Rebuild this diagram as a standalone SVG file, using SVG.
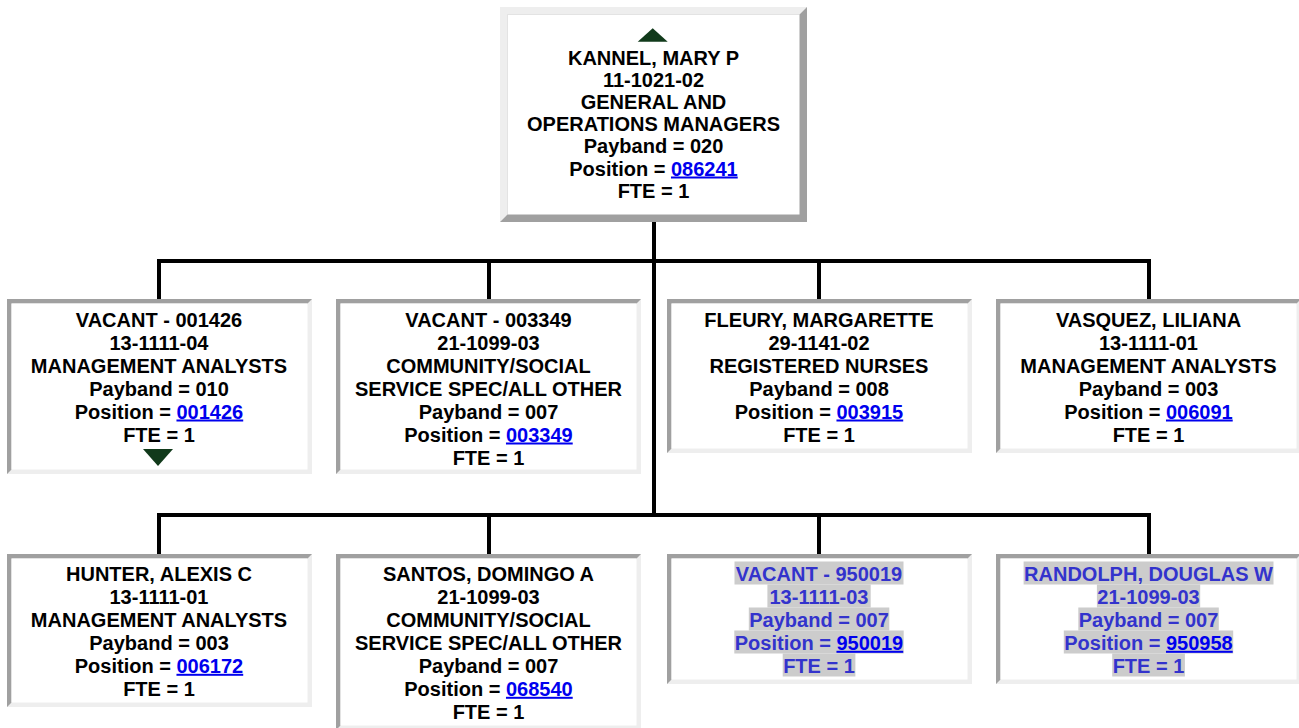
<svg xmlns="http://www.w3.org/2000/svg" width="1299" height="728" viewBox="0 0 1299 728">
<style>
text{font-family:"Liberation Sans",Arial,Helvetica,sans-serif;font-weight:bold;font-size:20px;text-anchor:middle;fill:#000}
.lt{fill:#eeeeee}
.dk{fill:#a0a0a0}
.in{fill:#ffffff}
.lnk{fill:#0000ee;text-decoration:underline}
.hl{fill:#cccccc}
text.hi{fill:#3333cc}
.tri{fill:#113a1b}
.conn{fill:none;stroke:#000;stroke-width:4;stroke-linejoin:miter}
</style>
<rect width="1299" height="728" fill="#ffffff"/>
<g id="connectors">
<path class="conn" d="M654 222 V515"/>
<path class="conn" d="M159 299 V261 H1149 V299 M489 261 V299 M819 261 V299"/>
<path class="conn" d="M159 554 V515 H1149 V554 M489 515 V554 M819 515 V554"/>
</g>
<g id="node-kannel" transform="translate(500,7)">
<rect class="dk" x="0" y="0" width="307" height="215"/>
<polygon class="lt" points="0,0 307,0 299.5,7.5 7.5,7.5 7.5,207.5 0,215"/>
<rect class="in" x="7.5" y="7.5" width="292" height="200"/>
<polygon class="tri" points="137.7,34.7 167.7,34.7 152.7,21.3"/>
<text x="153.5" y="57.5">KANNEL, MARY P<tspan x="153.5" dy="22.2">11-1021-02</tspan><tspan x="153.5" dy="22.2">GENERAL AND</tspan><tspan x="153.5" dy="22.2">OPERATIONS MANAGERS</tspan><tspan x="153.5" dy="22.2">Payband = 020</tspan><tspan x="153.5" dy="22.2">Position = <tspan class="lnk">086241</tspan></tspan><tspan x="153.5" dy="22.2">FTE = 1</tspan></text>
</g>
<g id="node-vacant-001426" transform="translate(7,299)">
<rect class="lt" x="0" y="0" width="305" height="175"/>
<polygon class="dk" points="0,0 305,0 300.5,4.5 4.5,4.5 4.5,170.5 0,175"/>
<rect class="in" x="4.5" y="4.5" width="296" height="166"/>
<text x="152" y="27.5">VACANT - 001426<tspan x="152" dy="23">13-1111-04</tspan><tspan x="152" dy="23">MANAGEMENT ANALYSTS</tspan><tspan x="152" dy="23">Payband = 010</tspan><tspan x="152" dy="23">Position = <tspan class="lnk">001426</tspan></tspan><tspan x="152" dy="23">FTE = 1</tspan></text>
<polygon class="tri" points="136,150 166,150 151,167"/>
</g>
<g id="node-vacant-003349" transform="translate(336,299)">
<rect class="lt" x="0" y="0" width="305" height="175"/>
<polygon class="dk" points="0,0 305,0 300.5,4.5 4.5,4.5 4.5,170.5 0,175"/>
<rect class="in" x="4.5" y="4.5" width="296" height="166"/>
<text x="152.5" y="27.5">VACANT - 003349<tspan x="152.5" dy="23">21-1099-03</tspan><tspan x="152.5" dy="23">COMMUNITY/SOCIAL</tspan><tspan x="152.5" dy="23">SERVICE SPEC/ALL OTHER</tspan><tspan x="152.5" dy="23">Payband = 007</tspan><tspan x="152.5" dy="23">Position = <tspan class="lnk">003349</tspan></tspan><tspan x="152.5" dy="23">FTE = 1</tspan></text>
</g>
<g id="node-fleury" transform="translate(667,299)">
<rect class="lt" x="0" y="0" width="305" height="154"/>
<polygon class="dk" points="0,0 305,0 300.5,4.5 4.5,4.5 4.5,149.5 0,154"/>
<rect class="in" x="4.5" y="4.5" width="296" height="145"/>
<text x="152" y="27.5">FLEURY, MARGARETTE<tspan x="152" dy="23">29-1141-02</tspan><tspan x="152" dy="23">REGISTERED NURSES</tspan><tspan x="152" dy="23">Payband = 008</tspan><tspan x="152" dy="23">Position = <tspan class="lnk">003915</tspan></tspan><tspan x="152" dy="23">FTE = 1</tspan></text>
</g>
<g id="node-vasquez" transform="translate(996,299)">
<rect class="lt" x="0" y="0" width="305" height="154"/>
<polygon class="dk" points="0,0 305,0 300.5,4.5 4.5,4.5 4.5,149.5 0,154"/>
<rect class="in" x="4.5" y="4.5" width="296" height="145"/>
<text x="152.5" y="27.5">VASQUEZ, LILIANA<tspan x="152.5" dy="23">13-1111-01</tspan><tspan x="152.5" dy="23">MANAGEMENT ANALYSTS</tspan><tspan x="152.5" dy="23">Payband = 003</tspan><tspan x="152.5" dy="23">Position = <tspan class="lnk">006091</tspan></tspan><tspan x="152.5" dy="23">FTE = 1</tspan></text>
</g>
<g id="node-hunter" transform="translate(7,554)">
<rect class="lt" x="0" y="0" width="305" height="153"/>
<polygon class="dk" points="0,0 305,0 300.5,4.5 4.5,4.5 4.5,148.5 0,153"/>
<rect class="in" x="4.5" y="4.5" width="296" height="144"/>
<text x="152" y="26.8">HUNTER, ALEXIS C<tspan x="152" dy="23">13-1111-01</tspan><tspan x="152" dy="23">MANAGEMENT ANALYSTS</tspan><tspan x="152" dy="23">Payband = 003</tspan><tspan x="152" dy="23">Position = <tspan class="lnk">006172</tspan></tspan><tspan x="152" dy="23">FTE = 1</tspan></text>
</g>
<g id="node-santos" transform="translate(336,554)">
<rect class="lt" x="0" y="0" width="305" height="176"/>
<polygon class="dk" points="0,0 305,0 300.5,4.5 4.5,4.5 4.5,171.5 0,176"/>
<rect class="in" x="4.5" y="4.5" width="296" height="167"/>
<text x="152.5" y="26.8">SANTOS, DOMINGO A<tspan x="152.5" dy="23">21-1099-03</tspan><tspan x="152.5" dy="23">COMMUNITY/SOCIAL</tspan><tspan x="152.5" dy="23">SERVICE SPEC/ALL OTHER</tspan><tspan x="152.5" dy="23">Payband = 007</tspan><tspan x="152.5" dy="23">Position = <tspan class="lnk">068540</tspan></tspan><tspan x="152.5" dy="23">FTE = 1</tspan></text>
</g>
<g id="node-vacant-950019" transform="translate(667,554)">
<rect class="lt" x="0" y="0" width="305" height="130"/>
<polygon class="dk" points="0,0 305,0 300.5,4.5 4.5,4.5 4.5,125.5 0,130"/>
<rect class="in" x="4.5" y="4.5" width="296" height="121"/>
<rect class="hl" x="67.5" y="7.5" width="169" height="23"/>
<rect class="hl" x="100.4" y="30.5" width="103.3" height="23"/>
<rect class="hl" x="81.8" y="53.5" width="140.5" height="23"/>
<rect class="hl" x="67.3" y="76.5" width="169.4" height="23"/>
<rect class="hl" x="115.7" y="99.5" width="72.7" height="23"/>
<text class="hi" x="152" y="26.8">VACANT - 950019<tspan x="152" dy="23">13-1111-03</tspan><tspan x="152" dy="23">Payband = 007</tspan><tspan x="152" dy="23">Position = <tspan class="lnk">950019</tspan></tspan><tspan x="152" dy="23">FTE = 1</tspan></text>
</g>
<g id="node-randolph" transform="translate(996,554)">
<rect class="lt" x="0" y="0" width="305" height="130"/>
<polygon class="dk" points="0,0 305,0 300.5,4.5 4.5,4.5 4.5,125.5 0,130"/>
<rect class="in" x="4.5" y="4.5" width="296" height="121"/>
<rect class="hl" x="27.6" y="7.5" width="249.9" height="23"/>
<rect class="hl" x="100.9" y="30.5" width="103.3" height="23"/>
<rect class="hl" x="82.3" y="53.5" width="140.5" height="23"/>
<rect class="hl" x="67.8" y="76.5" width="169.4" height="23"/>
<rect class="hl" x="116.2" y="99.5" width="72.7" height="23"/>
<text class="hi" x="152.5" y="26.8">RANDOLPH, DOUGLAS W<tspan x="152.5" dy="23">21-1099-03</tspan><tspan x="152.5" dy="23">Payband = 007</tspan><tspan x="152.5" dy="23">Position = <tspan class="lnk">950958</tspan></tspan><tspan x="152.5" dy="23">FTE = 1</tspan></text>
</g>
</svg>
